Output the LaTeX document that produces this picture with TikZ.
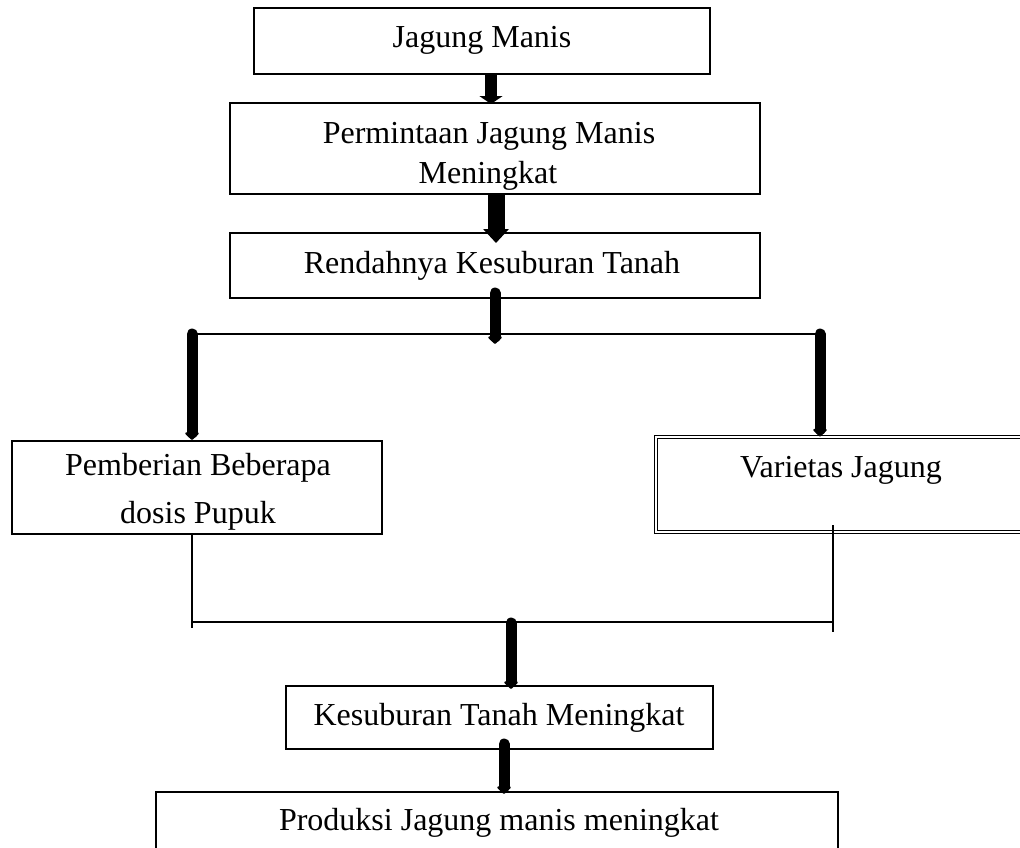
\documentclass[tikz,border=0pt]{standalone}
\usepackage{fontspec}
\setmainfont{Liberation Serif}
\usetikzlibrary{arrows.meta}
\begin{document}
\begin{tikzpicture}[x=1pt,y=-1pt,
  boxst/.style={draw=black,line width=2pt,inner sep=0pt,rectangle},
  dblbox/.style={draw=black,line width=0.9pt,double=white,double distance=1.6pt,inner sep=0pt,rectangle},
  lbl/.style={anchor=base,inner sep=0pt,font=\fontsize{32}{40}\selectfont},
  thin/.style={draw=black,line width=1.3pt},
  bigarrow/.style={line width=#1,-{Triangle[width=24pt,length=9pt]}},
  arrowr/.style={line width=11pt,line cap=round,-{Triangle[width=16pt,length=8pt,round]}}
]
\clip (0,0) rectangle (1020,847);
\fill[white] (0,0) rectangle (1020,847);

% boxes
\node[boxst,minimum width=456pt,minimum height=66pt] (b1) at (482,41) {};
\node[boxst,minimum width=530pt,minimum height=91pt] (b2) at (495,148.5) {};
\node[boxst,minimum width=530pt,minimum height=65pt] (b3) at (495,265.5) {};
\node[boxst,minimum width=370pt,minimum height=93pt] (b4) at (197,487.5) {};
\node[dblbox,minimum width=400pt,minimum height=95pt] (b5) at (856,484.5) {};
\node[boxst,minimum width=427pt,minimum height=63pt] (b6) at (499.5,717.5) {};
\node[boxst,minimum width=682pt,minimum height=90pt] (b7) at (497,837) {};

% labels
\node[lbl] (t1) at (482,47) {Jagung Manis};
\node[lbl] (t2a) at (489,143) {Permintaan Jagung Manis};
\node[lbl] (t2b) at (488,183) {Meningkat};
\node[lbl] (t3) at (492,273) {Rendahnya Kesuburan Tanah};
\node[lbl] (t4a) at (198,475) {Pemberian Beberapa};
\node[lbl] (t4b) at (198,523) {dosis Pupuk};
\node[lbl] (t5) at (841,477) {Varietas Jagung};
\node[lbl] (t6) at (499,725) {Kesuburan Tanah Meningkat};
\node[lbl] (t7) at (499,830) {Produksi Jagung manis meningkat};

% junction coordinates
\coordinate (jl) at (192,334);
\coordinate (jr) at (820,334);
\coordinate (jm) at (495,334);
\coordinate (a3s) at (495,293);
\coordinate (a3e) at (495,344);
\coordinate (kl) at (192,622);
\coordinate (kr) at (833,622);
\coordinate (kls) at (192,534);
\coordinate (kle) at (192,628);
\coordinate (krs) at (833,525);
\coordinate (kre) at (833,632);
\coordinate (a6s) at (511,623);
\coordinate (a7s) at (504,744);

% thin lines
\draw[thin] (jl) -- (jr);
\draw[thin] (kls) -- (kle);
\draw[thin] (krs) -- (kre);
\draw[thin] (kl) -- (kr);

% arrows
\draw[line width=12pt,-{Triangle[width=23pt,length=8pt]}] (b1.south -| 491,0) -- (491,104);
\draw[line width=17pt,-{Triangle[width=25pt,length=14pt]}] (b2.south -| 496,0) -- (496,243);
\draw[arrowr] (a3s) -- (a3e);
\draw[arrowr] (jl) -- (b4.north -| jl);
\draw[arrowr] (jr) -- (b5.north -| jr);
\draw[arrowr] (a6s) -- (511,689);
\draw[arrowr] (a7s) -- (504,794);
\end{tikzpicture}
\end{document}
